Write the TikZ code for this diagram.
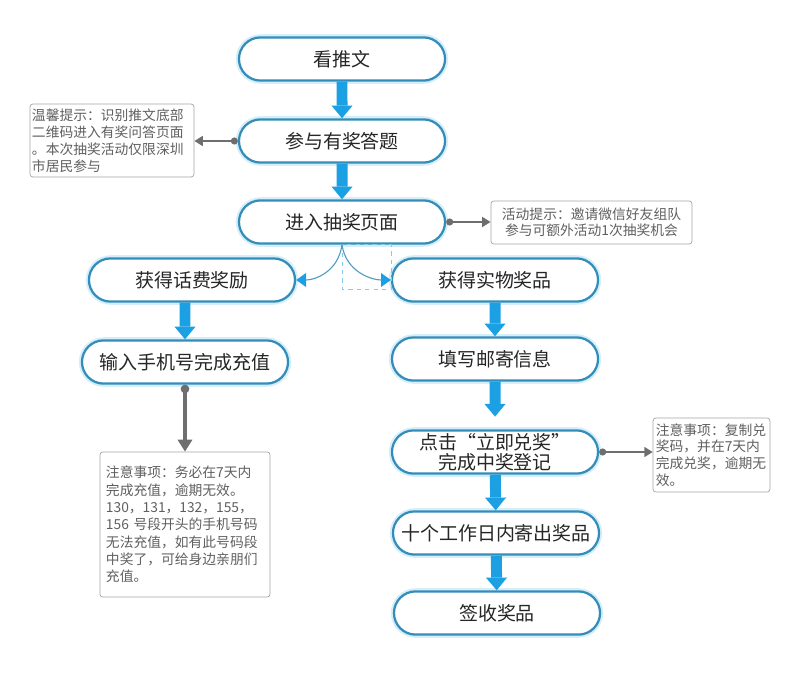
\documentclass[tikz,border=0pt]{standalone}
\usepackage{fontspec}
\setmainfont{Noto Sans CJK SC}
\usetikzlibrary{arrows.meta,shapes.misc}

\definecolor{flowblue}{RGB}{27,160,228}
\definecolor{rimblue}{RGB}{52,140,185}
\definecolor{glowblue}{RGB}{212,238,250}
\definecolor{notegray}{RGB}{95,95,95}
\definecolor{framegray}{RGB}{165,165,165}
\definecolor{linkgray}{RGB}{110,110,110}

\begin{document}
\begin{tikzpicture}[
    x=0.025cm, y=-0.025cm,
    stage/.style  = {draw=rimblue, line width=1.6pt, rounded rectangle, fill=white,
                     minimum width=5.15cm, minimum height=1.08cm, inner sep=0pt,
                     align=center, text=black!85, font=\fontsize{13.5}{16}\selectfont,
                     preaction={draw=glowblue, line width=4.5pt}},
    hint/.style   = {draw=framegray, line width=0.5pt, rounded corners=2pt, text=notegray,
                     align=left, font=\fontsize{9.8}{12}\selectfont},
    flow/.style   = {draw=flowblue, line width=7.8pt, -{Triangle[width=15pt, length=9pt, line width=0pt]}},
    branch/.style = {draw=rimblue!85, line width=0.8pt, -{Triangle[width=10pt, length=7pt, line width=0pt, color=flowblue]}},
    link/.style   = {draw=linkgray, line width=1.4pt, {Circle[length=5pt]}-{Triangle[width=7pt, length=6pt]}},
    biglink/.style= {draw=linkgray, line width=2.5pt, {Circle[length=6pt]}-{Triangle[width=10pt, length=8.5pt]}},
  ]
	\useasboundingbox (0,0) rectangle (800,676);

	% Hauptschritte
	\node (read)  at (342,59)  [stage] {看推文};
	\node (quiz)  at (342,141) [stage] {参与有奖答题};
	\node (draw)  at (342,222) [stage] {进入抽奖页面};
	\node (fee)   at (192,280) [stage] {获得话费奖励};
	\node (goods) at (495,280) [stage] {获得实物奖品};
	\node (phone) at (185,362) [stage] {输入手机号完成充值};
	\node (addr)  at (495,359) [stage] {填写邮寄信息};
	\node (claim) at (495,452) [stage, font=\fontsize{13.5}{14}\selectfont] {点击“立即兑奖”\\完成中奖登记};
	\node (ship)  at (496,533) [stage] {十个工作日内寄出奖品};
	\node (sign)  at (497,613) [stage] {签收奖品};

	% Hinweise
	\node (tipL)  at (112,140.5) [hint, text width=4.0cm, inner xsep=0.05cm, minimum height=1.775cm]
		{温馨提示：识别推文底部\\二维码进入有奖问答页面\\。本次抽奖活动仅限深圳\\市居民参与};
	\node (tipR)  at (591.5,222.5) [hint, align=center, minimum width=5.025cm, minimum height=1.075cm,
		font=\fontsize{9.8}{11.5}\selectfont]
		{活动提示：邀请微信好友组队\\参与可额外活动1次抽奖机会};
	\node (noteL) at (185,524.5) [hint, text width=3.95cm, inner xsep=0.15cm, minimum height=3.625cm,
		font=\fontsize{9.8}{12.3}\selectfont]
		{注意事项：务必在7天内\\完成充值，逾期无效。\\130，131，132，155，\\156 号段开头的手机号码\\无法充值，如有此号码段\\中奖了，可给身边亲朋们\\充值。};
	\node (noteR) at (711.5,455) [hint, text width=2.78cm, inner xsep=0.07cm, minimum height=1.85cm,
		font=\fontsize{9.8}{11.9}\selectfont]
		{注意事项：复制兑\\奖码，并在7天内\\完成兑奖，逾期无\\效。};

	% Pfeile
	\draw[flow] (read) -- (quiz);
	\draw[flow] (quiz) -- (draw);
	\draw[flow] (fee.south -| phone) -- (phone);
	\draw[flow] (goods) -- (addr);
	\draw[flow, shorten >=9pt] (addr) -- (claim);
	\draw[flow] (claim) -- (ship);
	\draw[flow] (ship) -- (sign);

	% Verzweigung
	\draw[dashed, draw=flowblue!55, line width=0.6pt] (draw.south) rectangle (391,289);
	\draw[branch] (draw.south) .. controls +(-4,28) and +(18,0) .. (fee.east);
	\draw[branch] (draw.south) .. controls +(4,28) and +(-18,0) .. (goods.west);

	% Verbindungen zu den Hinweisen
	\draw[link] (quiz.west) -- (quiz.west -| tipL.east);
	\draw[link] (draw.east) -- (draw.east -| tipR.west);
	\draw[link] (claim.east) -- (claim.east -| noteR.west);
	\draw[biglink] (phone.south) -- (noteL.north);
\end{tikzpicture}
\end{document}
